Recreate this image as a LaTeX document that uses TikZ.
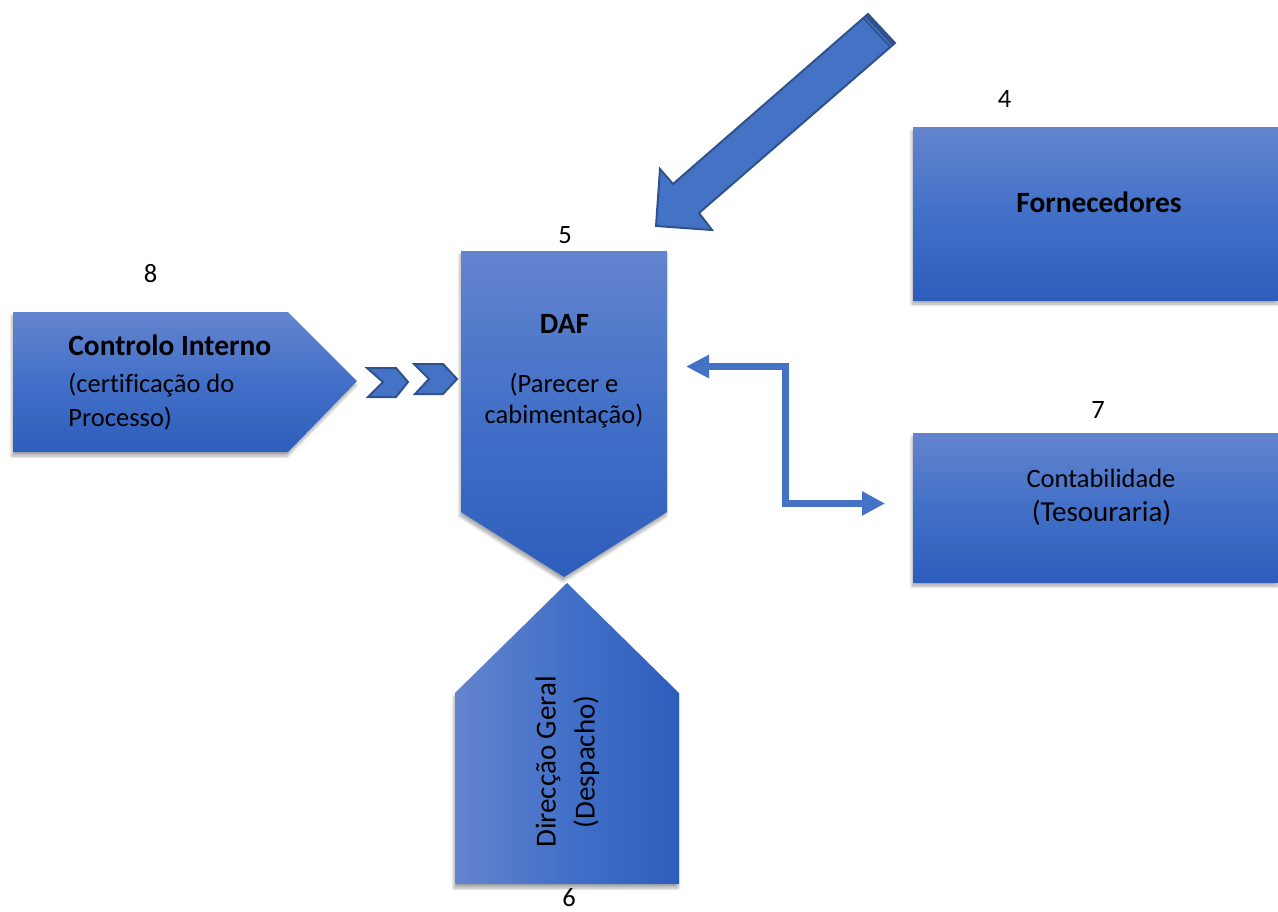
\documentclass[tikz,border=0pt]{standalone}
\usepackage{fontspec}
\setmainfont{Carlito}[Ligatures=NoCommon]
\usetikzlibrary{arrows.meta,shadows.blur}
\definecolor{bfill}{RGB}{68,114,196}
\definecolor{bedge}{RGB}{47,82,143}
\definecolor{gtop}{RGB}{100,132,206}
\definecolor{gmid}{RGB}{66,112,200}
\definecolor{gbot}{RGB}{46,94,188}
\begin{document}
\begin{tikzpicture}[x=0.5pt,y=-0.5pt,
  shad/.style={blur shadow={shadow xshift=-0.5pt, shadow yshift=-2pt, shadow blur steps=6, shadow opacity=35, shadow blur radius=1.5pt}},
  vshade/.style={shad, top color=gtop, bottom color=gbot, middle color=gmid},
  hshade/.style={shad, left color=gtop, right color=gbot, middle color=gmid},
  numlbl/.style={inner sep=0pt, anchor=base, font=\fontsize{13.25}{16}\selectfont},
  ttl/.style={inner sep=0pt, anchor=base, font=\fontsize{14.7}{17}\selectfont\bfseries},
  sub/.style={inner sep=0pt, anchor=base, font=\fontsize{13.25}{16}\selectfont},
  big/.style={inner sep=0pt, anchor=base, font=\fontsize{14.5}{17}\selectfont},
  chev/.style={fill=bfill, draw=bedge, line width=1pt, line join=miter},
  link/.style={draw=bfill, line width=3.5pt, line join=miter,
    {Triangle[length=11.5pt,width=11pt]}-{Triangle[length=11.5pt,width=11.5pt]}}
]
\useasboundingbox (0,0) rectangle (1278,911);

% Fornecedores (4)
\path[vshade] (913,127) rectangle (1278,300);
\node[ttl] (forn) at (1099,212) {Fornecedores};
\node[numlbl] (n4) at (1004.5,107) {4};

% Contabilidade (7)
\path[vshade] (913,433) rectangle (1278,582);
\node[sub] (cont1) at (1101,487) {Contabilidade};
\node[big] (cont2) at (1101.5,521) {(Tesouraria)};
\node[numlbl] (n7) at (1098,418) {7};

% DAF (5)
\path[vshade] (461,251) -- (667,251) -- (667,512) -- (564,577) -- (461,512) -- cycle;
\node[ttl] (daf) at (564.5,333) {DAF};
\node[sub] (daf2) at (564,392) {(Parecer e};
\node[sub] (daf3) at (564,423) {cabimentação)};
\node[numlbl] (n5) at (565,243) {5};

% Controlo Interno (8)
\path[vshade] (13,312) -- (288,312) -- (357,381) -- (288,452) -- (13,452) -- cycle;
\node[ttl, anchor=base west] (ci1) at (68,355) {Controlo Interno};
\node[sub, anchor=base west] (ci2) at (68,392.5) {(certificação do};
\node[sub, anchor=base west] (ci3) at (68,426) {Processo)};
\node[numlbl] (n8) at (150.5,282) {8};

% Direccao Geral (6)
\path[hshade] (567,583) -- (679,693) -- (679,884) -- (455,884) -- (455,693) -- cycle;
\node[big, rotate=90] (dg1) at (555.5,762) {Direcção Geral};
\node[big, rotate=90] (dg2) at (594.5,762) {(Despacho)};
\node[numlbl] (n6) at (569,906) {6};

% chevrons
\path[chev] (367,368) -- (396,368) -- (408,382) -- (396,397) -- (368,397) -- (383,382) -- cycle;
\path[chev] (414,364) -- (443,364) -- (457,379) -- (443,394) -- (415,394) -- (429,379) -- cycle;

% big arrow
\path[fill=bfill, draw=bedge, line width=1pt, line join=miter]
  (868,14) -- (895,43) -- (699,213) -- (712,230) -- (656,226) -- (660,169) -- (673,184) -- cycle;
\path[fill=bedge] (868,14) -- (895,43) -- (889.7,47.6) -- (862.7,18.6) -- cycle;
\draw[bfill, line width=0.6pt] (865.5,18) -- (891,45.5);

% double elbow connector
\coordinate (la) at (686,366.5);
\coordinate (lb) at (785.5,503.5);
\coordinate (lc) at (885,503.5);
\draw[link] (la) -| (lb) -- (lc);
\end{tikzpicture}
\end{document}
